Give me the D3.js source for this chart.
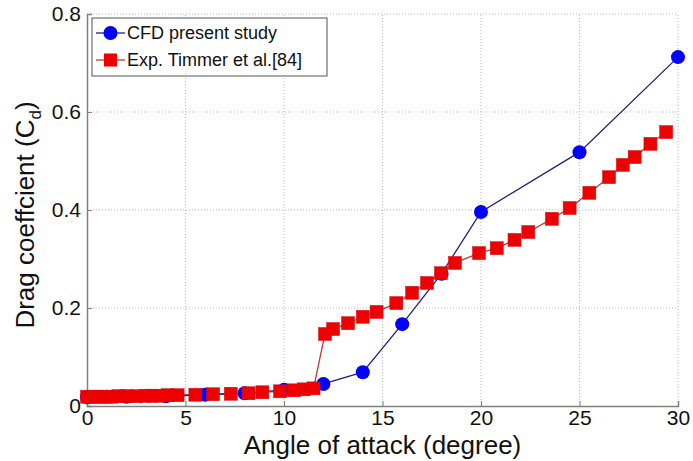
<!DOCTYPE html>
<html><head><meta charset="utf-8">
<script src="https://cdn.jsdelivr.net/npm/d3@7"></script>
<style>body{margin:0;background:#fff}svg{display:block}text{font-family:"Liberation Sans",Arial,sans-serif}</style>
</head><body><svg id="c" width="693" height="461"></svg>
<script>
const xTicks=[0,5,10,15,20,25,30];
const yTicks=[0,0.2,0.4,0.6,0.8];
const yTickLabels=["0","0.2","0.4","0.6","0.8"];
const cfdAngle=[0,2,4,6,8,10,12,14,16,18,20,25,30];
const cfdCd=[0.018,0.019,0.020,0.023,0.026,0.033,0.045,0.069,0.167,0.270,0.396,0.518,0.712];
const expAngle=[0,0.25,0.5,0.75,1.0,1.25,1.6,2.0,2.5,3.0,3.3,3.7,4.1,4.6,5.5,6.4,7.3,8.2,8.9,9.8,10.5,11.0,11.5,
  12.08,12.49,13.25,14.0,14.7,15.7,16.5,17.26,17.97,18.68,19.9,20.8,21.7,22.4,23.6,24.5,25.5,26.5,27.2,27.8,28.6,29.4];
const expCd=[0.019,0.019,0.019,0.019,0.019,0.019,0.020,0.020,0.020,0.021,0.021,0.021,0.022,0.022,0.023,0.024,0.025,0.026,0.028,0.030,0.032,0.034,0.036,
  0.147,0.157,0.169,0.182,0.192,0.210,0.231,0.251,0.271,0.292,0.312,0.322,0.339,0.355,0.382,0.404,0.435,0.467,0.492,0.508,0.535,0.559];
const seriesNames=["CFD present study","Exp. Timmer et al.[84]"];

const svg=d3.select("#c");
const x=d3.scaleLinear().domain([0,30]).range([87,678]);
const y=d3.scaleLinear().domain([0,0.8]).range([406,14]);

// grid
const g=svg.append("g");
g.selectAll("line.vg").data(xTicks.slice(1)).enter().append("line")
 .attr("x1",d=>x(d)).attr("x2",d=>x(d)).attr("y1",y(0)).attr("y2",y(0.8))
 .attr("stroke","#b8b8b8").attr("stroke-width",1).attr("stroke-dasharray","1,2");
g.selectAll("line.hg").data(yTicks.slice(1)).enter().append("line")
 .attr("x1",x(0)).attr("x2",x(30)).attr("y1",d=>y(d)).attr("y2",d=>y(d))
 .attr("stroke","#b8b8b8").attr("stroke-width",1).attr("stroke-dasharray","1,2");

// axes
const xAxis=d3.axisBottom(x).tickValues(xTicks).tickSize(-5).tickPadding(4).tickFormat(d3.format("d"));
const yAxis=d3.axisLeft(y).tickValues(yTicks).tickSize(-5).tickPadding(6).tickFormat((d,i)=>yTickLabels[i]);
const gx=svg.append("g").attr("transform",`translate(0,${y(0)})`).call(xAxis);
const gy=svg.append("g").attr("transform",`translate(${x(0)},0)`).call(yAxis);
[gx,gy].forEach(a=>{a.select(".domain").attr("stroke","#808080").attr("stroke-width",1.5);
 a.selectAll(".tick line").attr("stroke","#808080");
 a.selectAll("text").attr("font-size",21).attr("fill","#111").style("font-family","'Liberation Sans',Arial,sans-serif");});

// lines
const line=d3.line();
svg.append("path").datum(expAngle.map((a,i)=>[x(a),y(expCd[i])])).attr("d",line)
 .attr("fill","none").attr("stroke","#b83a3a").attr("stroke-width",1.3);
svg.append("path").datum(cfdAngle.map((a,i)=>[x(a),y(cfdCd[i])])).attr("d",line)
 .attr("fill","none").attr("stroke","#22227a").attr("stroke-width",1.3);

// markers: blue first, then red
svg.append("g").selectAll("circle").data(cfdAngle).enter().append("circle")
 .attr("cx",d=>x(d)).attr("cy",(d,i)=>y(cfdCd[i])).attr("r",7).attr("fill","#0000ff");
svg.append("g").selectAll("rect").data(expAngle).enter().append("rect")
 .attr("x",d=>x(d)-6.5).attr("y",(d,i)=>y(expCd[i])-6.5).attr("width",13).attr("height",13)
 .attr("fill","#ee0000").attr("stroke","#d01010").attr("stroke-width",0.5);

// legend
const lg=svg.append("g");
lg.append("rect").attr("x",92).attr("y",18).attr("width",235).attr("height",58)
 .attr("fill","#fff").attr("stroke","#555").attr("stroke-width",1);
const ly=[33,60];
lg.append("line").attr("x1",96).attr("x2",125).attr("y1",ly[0]).attr("y2",ly[0]).attr("stroke","#22227a").attr("stroke-width",1.3);
lg.append("circle").attr("cx",110.5).attr("cy",ly[0]).attr("r",7).attr("fill","#0000ff");
lg.append("line").attr("x1",96).attr("x2",125).attr("y1",ly[1]).attr("y2",ly[1]).attr("stroke","#b83a3a").attr("stroke-width",1.3);
lg.append("rect").attr("x",104).attr("y",ly[1]-6.5).attr("width",13).attr("height",13).attr("fill","#ee0000");
lg.selectAll("text").data(seriesNames).enter().append("text")
 .attr("x",127).attr("y",(d,i)=>ly[i]).attr("dy","0.35em").attr("font-size",18).attr("fill","#111").text(d=>d);

// axis labels
svg.append("text").attr("x",(x(0)+x(30))/2).attr("y",454).attr("text-anchor","middle")
 .attr("font-size",26).attr("fill","#111").text("Angle of attack (degree)");
const yl=svg.append("text").attr("transform",`translate(34,215) rotate(-90)`).attr("text-anchor","middle")
 .attr("font-size",26).attr("fill","#111");
yl.append("tspan").text("Drag coeffcient (C");
yl.append("tspan").attr("font-size",17).attr("dy",7).text("d");
yl.append("tspan").attr("dy",-7).text(")");
</script></body></html>
